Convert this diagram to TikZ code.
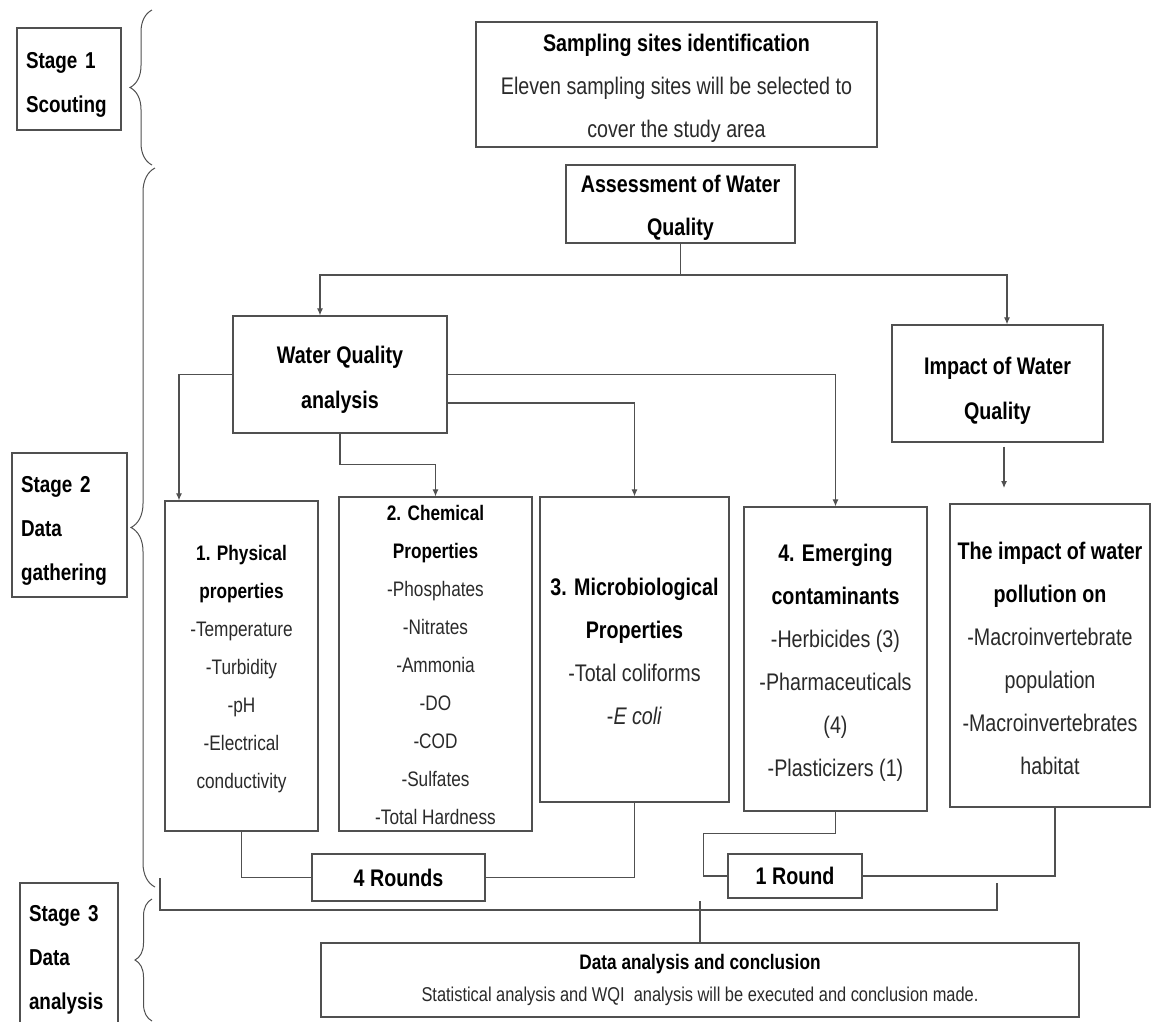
\documentclass[tikz,border=0pt]{standalone}
\usepackage{fontspec}
\setmainfont{Liberation Sans}[FakeStretch=0.82]
\usetikzlibrary{arrows.meta,decorations.pathreplacing,calc}
\definecolor{linec}{HTML}{505050}
\definecolor{txt}{HTML}{2A2A2A}
\newcommand{\upr}[1]{\rule{0pt}{#1pt}}
\tikzset{
  box/.style={draw=linec, line width=1.3pt, align=center, inner sep=0pt, text=txt},
  fa/.style={font=\fontsize{24}{43}\selectfont},
  fb/.style={font=\fontsize{21}{38}\selectfont},
  stagebox/.style={draw=linec, line width=1.3pt, align=left, inner xsep=9pt, inner ysep=0pt, text=black, font=\fontsize{23}{44}\selectfont\bfseries},
  conn/.style={draw=linec, line width=1.1pt},
  arr/.style={conn, -{Latex[length=7pt,width=6pt]}},
  brc/.style={draw=linec, line width=1pt, decorate}
}
\begin{document}
\begin{tikzpicture}[x=1pt,y=-1pt]
\useasboundingbox (0,0) rectangle (1154,1021);
\fill[white] (0,0) rectangle (1154,1021);

% stage boxes
\node[stagebox, text width=86pt, minimum height=102pt] (st1) at (69,79) {\upr{27}Stage 1\\Scouting};
\node[stagebox, text width=97pt, minimum height=144pt] (st2) at (69.5,525) {\upr{27}Stage 2\\Data\\gathering};
\node[stagebox, text width=80pt, minimum height=153pt] (st3) at (69,959.5) {Stage 3\\Data\\analysis};

% braces
\draw[brc, decoration={brace, amplitude=22pt}] (152,165) -- (152,10);
\draw[brc, decoration={brace, amplitude=24pt}] (155,887) -- (155,168);
\draw[brc, decoration={brace, amplitude=17pt}] (152,1021) -- (152,899);

% main boxes
\node[box, fa, minimum width=401pt, minimum height=125pt] (sites) at (676.5,84.5)
  {\upr{25.5}\textbf{\textcolor{black}{Sampling sites identification}}\\Eleven sampling sites will be selected to\\cover the study area};
\node[box, fa, minimum width=229pt, minimum height=78pt] (assess) at (680.5,204)
  {\upr{25.5}\textbf{\textcolor{black}{Assessment of Water}}\\\textbf{\textcolor{black}{Quality}}};
\node[box, font=\fontsize{24}{45}\selectfont\bfseries, text=black, minimum width=214pt, minimum height=117pt] (wqa) at (340,374.5)
  {\upr{27.5}Water Quality\\analysis};
\node[box, font=\fontsize{24}{45}\selectfont\bfseries, text=black, minimum width=211pt, minimum height=117pt] (imp) at (997.5,383.5)
  {\upr{31.5}Impact of Water\\Quality};

\node[box, fb, minimum width=153pt, minimum height=330pt] (phys) at (241.5,666)
  {\upr{21.3}\textbf{\textcolor{black}{1. Physical}}\\\textbf{\textcolor{black}{properties}}\\-Temperature\\-Turbidity\\-pH\\-Electrical\\conductivity};
\node[box, fb, minimum width=193pt, minimum height=334pt] (chem) at (435.5,664)
  {\upr{17.5}\textbf{\textcolor{black}{2. Chemical}}\\\textbf{\textcolor{black}{Properties}}\\-Phosphates\\-Nitrates\\-Ammonia\\-DO\\-COD\\-Sulfates\\-Total Hardness};
\node[box, fa, minimum width=189pt, minimum height=305pt] (mic) at (634.5,649.5)
  {\upr{21.5}\textbf{\textcolor{black}{3. Microbiological}}\\\textbf{\textcolor{black}{Properties}}\\-Total coliforms\\-\textit{E coli}};
\node[box, fa, minimum width=183pt, minimum height=304pt] (emg) at (835.5,659)
  {\upr{25.5}\textbf{\textcolor{black}{4. Emerging}}\\\textbf{\textcolor{black}{contaminants}}\\-Herbicides (3)\\-Pharmaceuticals\\(4)\\-Plasticizers (1)};
\node[box, fa, minimum width=200pt, minimum height=303pt] (imp2) at (1050,655.5)
  {\upr{23.5}\textbf{\textcolor{black}{The impact of water}}\\\textbf{\textcolor{black}{pollution on}}\\-Macroinvertebrate\\population\\-Macroinvertebrates\\habitat};

\node[box, font=\fontsize{24}{30}\selectfont\bfseries, text=black, minimum width=173pt, minimum height=47pt] (r4) at (398.5,877.5) {4 Rounds};
\node[box, font=\fontsize{24}{30}\selectfont\bfseries, text=black, minimum width=134pt, minimum height=44pt] (r1) at (795,876) {1 Round};

\node[box, font=\fontsize{20}{32}\selectfont, minimum width=758pt, minimum height=74pt] (da) at (700,980)
  {\textbf{\textcolor{black}{\fontsize{21}{32}\selectfont Data analysis and conclusion}}\\Statistical analysis and WQI\ \ analysis will be executed and conclusion made.};

% coordinates
\coordinate (bus) at (0,275);
\coordinate (impend) at (1004,488);
\coordinate (b1) at (160,878);
\coordinate (b2) at (997,883);
\coordinate (bus2) at (0,910);

% top connectors
\draw[conn] (assess.south) -- (assess.south |- bus);
\draw[arr] (assess.south |- bus) -| ([xshift=-20pt]wqa.north);
\draw[arr] (assess.south |- bus) -| ([xshift=9.5pt]imp.north);
\draw[arr] ([xshift=6.5pt,yshift=-4pt]imp.south) -- (impend);

% water quality analysis connectors
\draw[arr] (wqa.west) -| ([xshift=-62.5pt]phys.north);
\draw[arr] (wqa.east) -| (emg.north);
\draw[arr] ([yshift=-28.5pt]wqa.east) -| (mic.north);
\draw[arr] (wqa.south) -- ++(0,31) -| (chem.north);

% rounds connectors
\draw[conn] (phys.south) |- (r4.west);
\draw[conn] (r4.east) -| (mic.south);
\draw[conn] (emg.south) -- ++(0,22) -| ([xshift=-24pt]r1.west) -- (r1.west);
\draw[conn] (r1.east) -| ([xshift=5pt]imp2.south);

% to data analysis
\draw[conn] (b1) -- (b1 |- bus2) -- (b2 |- bus2) -- (b2);
\draw[conn] (da.north) -- ++(0,-41);
\end{tikzpicture}
\end{document}
